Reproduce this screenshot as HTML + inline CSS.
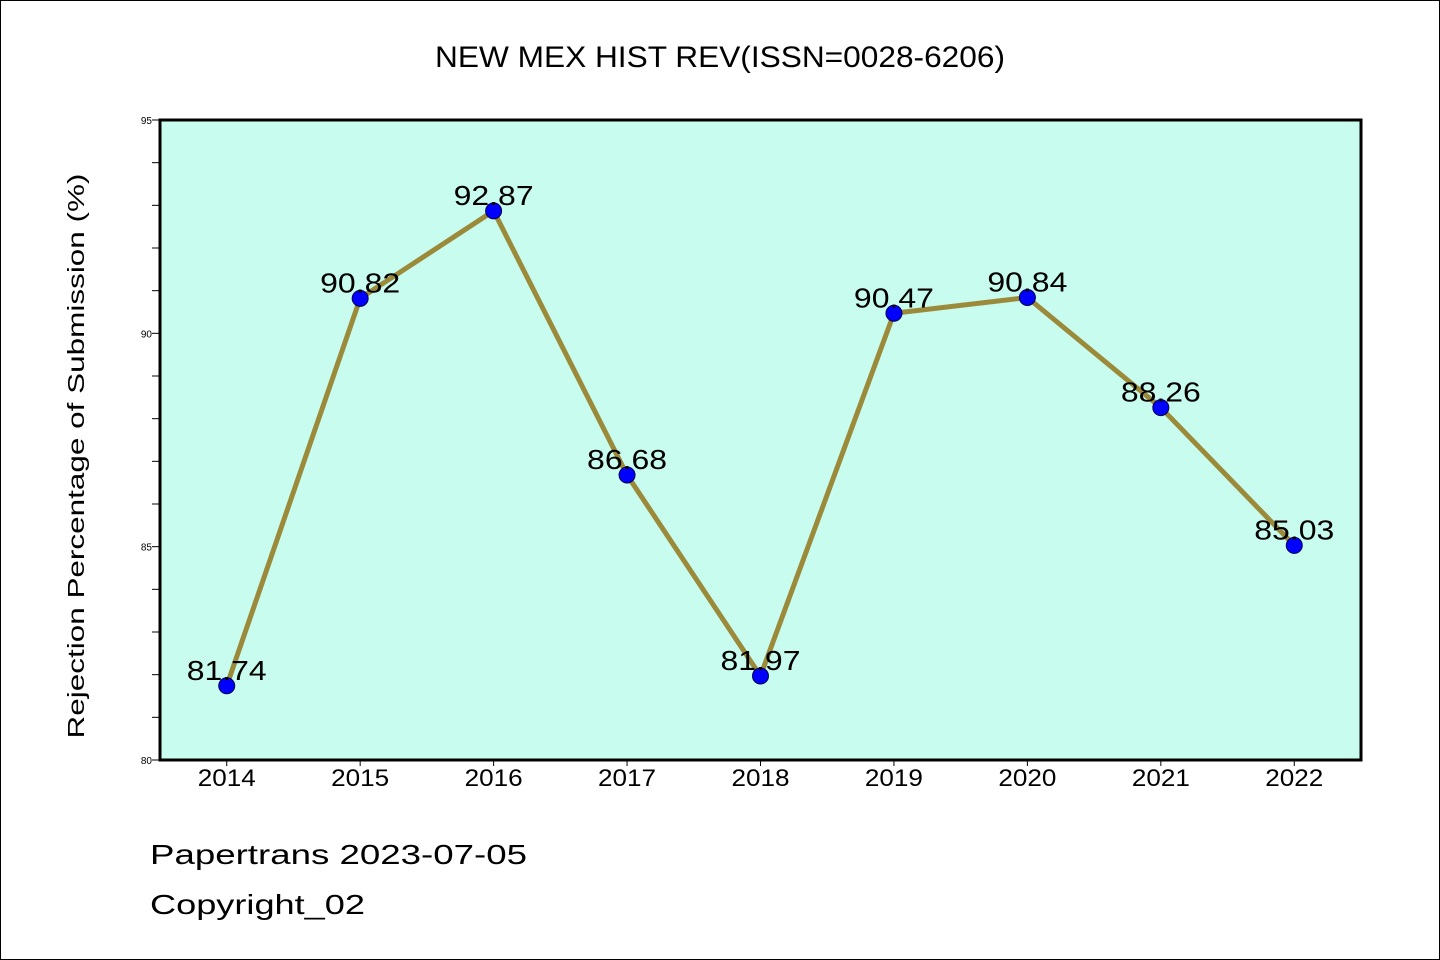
<!DOCTYPE html>
<html><head><meta charset="utf-8"><style>
body{margin:0;background:#fff}
svg{display:block}
text{font-family:"Liberation Sans",sans-serif}
</style></head><body>
<svg width="1440" height="960" xmlns="http://www.w3.org/2000/svg">
<rect x="0.5" y="0.5" width="1439" height="959" fill="#fff" stroke="#000"/>
<text x="720" y="67" text-anchor="middle" font-size="30" textLength="570" lengthAdjust="spacingAndGlyphs">NEW MEX HIST REV(ISSN=0028-6206)</text>
<rect x="160" y="120" width="1201" height="640" fill="#c8fcee"/>
<g id="axes"></g>
<g id="series"></g>
<rect x="160" y="120" width="1201" height="640" fill="none" stroke="#000" stroke-width="3"/>
<text x="84" y="456" text-anchor="middle" font-size="23" transform="rotate(-90 84 456)" textLength="565" lengthAdjust="spacingAndGlyphs">Rejection Percentage of Submission (%)</text>
<text x="150" y="864" font-size="28" textLength="377" lengthAdjust="spacingAndGlyphs">Papertrans 2023-07-05</text>
<text x="150" y="914" font-size="28" textLength="215" lengthAdjust="spacingAndGlyphs">Copyright_02</text>
</svg>
<script>
const years=["2014","2015","2016","2017","2018","2019","2020","2021","2022"];
const values=[81.74,90.82,92.87,86.68,81.97,90.47,90.84,88.26,85.03];
const valueLabels=["81.74","90.82","92.87","86.68","81.97","90.47","90.84","88.26","85.03"];
const yTickLabels=["80","85","90","95"];
const NS="http://www.w3.org/2000/svg";
const X0=160,X1=1361,Y0=760,Y1=120,YMIN=80,YMAX=95;
function xs(i){return X0+(i+0.5)*(X1-X0)/years.length;}
function ys(v){return Y0-(v-YMIN)/(YMAX-YMIN)*(Y0-Y1);}
function mk(tag,attrs,parent){const e=document.createElementNS(NS,tag);for(const k in attrs)e.setAttribute(k,attrs[k]);parent.appendChild(e);return e;}
const ax=document.getElementById('axes'),se=document.getElementById('series');
for(let v=YMIN;v<=YMAX;v++){
  const t=mk('line',{x1:X0-8,x2:X0,y1:ys(v),y2:ys(v),stroke:'#000','stroke-width':1},ax);
  
  
}
yTickLabels.forEach(l=>{
  const t=mk('text',{x:X0-8,y:ys(+l)+4,'text-anchor':'end','font-size':10},ax);
  t.textContent=l;
  
  
});
years.forEach((y,i)=>{
  const t=mk('line',{x1:xs(i),x2:xs(i),y1:Y0,y2:Y0+6,stroke:'#000','stroke-width':1},ax);
  
  
  const l=mk('text',{x:xs(i),y:Y0+26,'text-anchor':'middle','font-size':24,textLength:58,lengthAdjust:'spacingAndGlyphs'},ax);
  l.textContent=y;
  
  
});
const pts=values.map((v,i)=>xs(i)+','+ys(v)).join(' ');
const pl=mk('polyline',{points:pts,fill:'none',stroke:'#9b8a3a','stroke-width':5,'stroke-linejoin':'round'},se);


values.forEach((v,i)=>{
  const c=mk('circle',{cx:xs(i),cy:ys(v),r:8,fill:'#0000ff',stroke:'#00004a','stroke-width':1},se);
  
  
  const t=mk('text',{x:xs(i),y:ys(v)-6,'text-anchor':'middle','font-size':28,textLength:80,lengthAdjust:'spacingAndGlyphs'},se);
  t.textContent=valueLabels[i];
  
  
});
</script>
</body></html>
